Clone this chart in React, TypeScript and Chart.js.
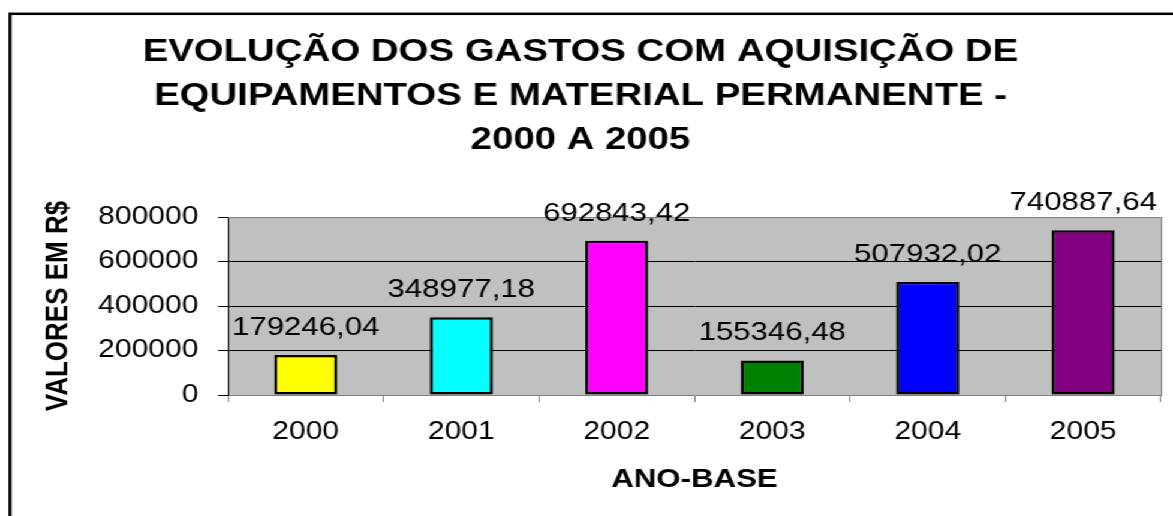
import React, { useEffect, useRef } from 'react';
import { Chart, registerables } from 'chart.js';

Chart.register(...registerables);

const categories = ['2000', '2001', '2002', '2003', '2004', '2005'];
const values = [179246.04, 348977.18, 692843.42, 155346.48, 507932.02, 740887.64];
const barColors = ['#FFFF00', '#00FFFF', '#FF00FF', '#008000', '#0000FF', '#800080'];
const titleLines = ['EVOLUÇÃO DOS GASTOS COM AQUISIÇÃO DE', 'EQUIPAMENTOS E MATERIAL PERMANENTE -', '2000 A 2005'];
const yAxisTitle = 'VALORES EM R$';
const xAxisTitle = 'ANO-BASE';
const yMin = 0;
const yMax = 800000;
const yStep = 200000;

const W = 978;
const H = 516;
const SX = 1173 / W;
const FONT = "'Liberation Sans', Arial, Helvetica, sans-serif";

const fmt = (v: number) => v.toFixed(2).replace('.', ',');

const plotPlugin = {
  id: 'plotDecor',
  beforeDraw(chart: any) {
    const { ctx, chartArea } = chart;
    ctx.save();
    ctx.fillStyle = '#C0C0C0';
    ctx.fillRect(chartArea.left, chartArea.top, chartArea.right - chartArea.left, chartArea.bottom - chartArea.top);
    ctx.restore();
  },
  beforeDatasetsDraw(chart: any) {
    const { ctx, chartArea } = chart;
    ctx.save();
    ctx.strokeStyle = '#808080';
    ctx.lineWidth = 1;
    const t = Math.floor(chartArea.top) + 0.5;
    const r = Math.floor(chartArea.right) + 0.5;
    ctx.beginPath();
    ctx.moveTo(chartArea.left, t);
    ctx.lineTo(r, t);
    ctx.lineTo(r, chartArea.bottom);
    ctx.stroke();
    ctx.restore();
  },
  afterDatasetsDraw(chart: any) {
    const { ctx } = chart;
    const meta = chart.getDatasetMeta(0);
    ctx.save();
    ctx.font = `26px ${FONT}`;
    ctx.fillStyle = '#000';
    ctx.textAlign = 'center';
    ctx.textBaseline = 'alphabetic';
    meta.data.forEach((bar: any, i: number) => {
      ctx.fillText(fmt(values[i]), bar.x, bar.y - 20);
    });
    ctx.restore();
  },
  afterDraw(chart: any) {
    const { ctx } = chart;
    ctx.save();
    ctx.strokeStyle = '#000';
    ctx.lineWidth = 2.5;
    ctx.strokeRect(8.3, 13.8, 3000, 3000);
    ctx.restore();
  },
};

export default function App() {
  const ref = useRef<HTMLCanvasElement | null>(null);

  useEffect(() => {
    if (!ref.current) return;
    Chart.defaults.font.family = FONT;
    Chart.defaults.color = '#000';
    const chart = new Chart(ref.current, {
      type: 'bar',
      data: {
        labels: categories,
        datasets: [
          {
            data: values,
            backgroundColor: barColors,
            borderColor: '#000',
            borderWidth: 2.5,
            borderSkipped: false,
            barPercentage: 0.405,
            categoryPercentage: 1,
          },
        ],
      },
      options: {
        responsive: false,
        animation: false,
        devicePixelRatio: 1,
        layout: { padding: { left: 0, right: 10, top: 0, bottom: 0 } },
        plugins: {
          legend: { display: false },
          tooltip: { enabled: false },
          title: {
            display: true,
            text: titleLines,
            color: '#000',
            font: { family: FONT, size: 32, weight: 'bold', lineHeight: 44 / 32 },
            padding: { top: 30.5, bottom: 54.5 },
          },
        },
        scales: {
          x: {
            offset: true,
            grid: {
              offset: true,
              drawOnChartArea: false,
              drawTicks: true,
              tickLength: 7,
              tickColor: '#808080',
              color: '#808080',
            },
            border: { display: true, color: '#808080', width: 1 },
            ticks: { font: { family: FONT, size: 25 }, color: '#000', padding: 15, maxRotation: 0 },
            title: {
              display: true,
              text: xAxisTitle,
              color: '#000',
              font: { family: FONT, size: 26, weight: 'bold', lineHeight: 1.2 },
              padding: { top: 0, bottom: 20.4 },
            },
            afterFit(scale: any) {
              scale.height = 121;
            },
          },
          y: {
            min: yMin,
            max: yMax,
            grid: {
              color: (c: any) => (c.tick && c.tick.value === 0 ? 'rgba(0,0,0,0)' : '#000'),
              tickColor: '#000',
              tickLength: 8.3,
              drawTicks: true,
            },
            border: { display: true, color: '#000', width: 1 },
            ticks: {
              stepSize: yStep,
              font: { family: FONT, size: 25 },
              color: '#000',
              padding: 16.5,
              callback: (v: any) => String(v),
            },
            title: {
              display: true,
              text: yAxisTitle,
              color: '#000',
              font: { family: FONT, size: 26, weight: 'bold', lineHeight: 1.2 },
              padding: { top: 32.8, bottom: 0 },
            },
            afterFit(scale: any) {
              scale.width = 228 / SX;
            },
          },
        },
      },
      plugins: [plotPlugin],
    });
    return () => chart.destroy();
  }, []);

  return (
    <div
      style={{
        position: 'fixed',
        left: 0,
        top: 0,
        width: W,
        height: H,
        transform: `scaleX(${SX})`,
        transformOrigin: '0 0',
        background: '#fff',
      }}
    >
      <canvas ref={ref} width={W} height={H} style={{ display: 'block' }} />
    </div>
  );
}
